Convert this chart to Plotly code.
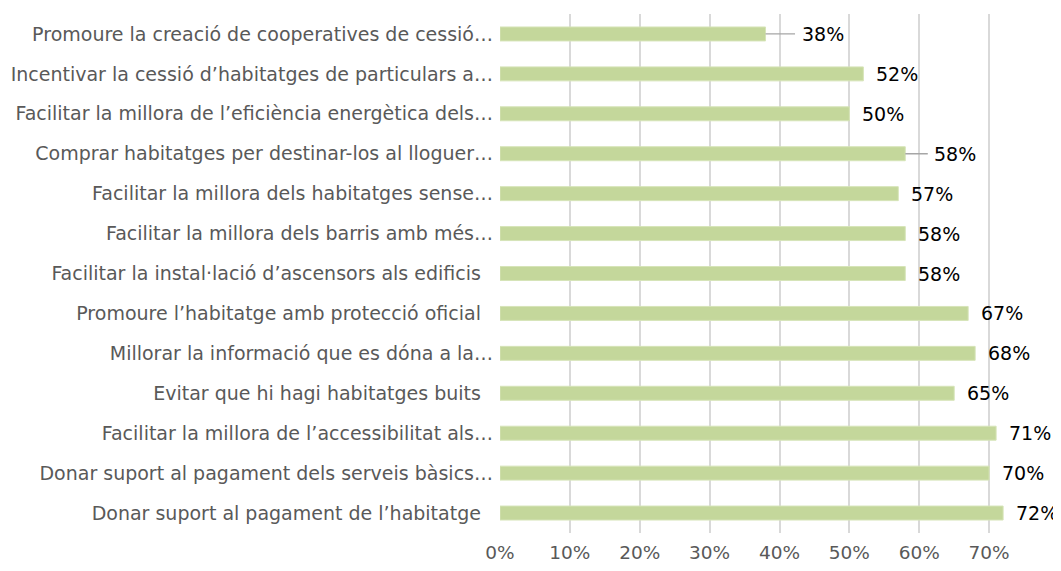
import plotly.graph_objects as go

categories = [
    "Promoure la creació de cooperatives de cessió…",
    "Incentivar la cessió d’habitatges de particulars a…",
    "Facilitar la millora de l’eficiència energètica dels…",
    "Comprar habitatges per destinar-los al lloguer…",
    "Facilitar la millora dels habitatges sense…",
    "Facilitar la millora dels barris amb més…",
    "Facilitar la instal·lació d’ascensors als edificis\u00a0\u00a0",
    "Promoure l’habitatge amb protecció oficial\u00a0\u00a0",
    "Millorar la informació que es dóna a la…",
    "Evitar que hi hagi habitatges buits\u00a0\u00a0",
    "Facilitar la millora de l’accessibilitat als…",
    "Donar suport al pagament dels serveis bàsics…",
    "Donar suport al pagament de l’habitatge\u00a0\u00a0",
]
values = [0.38, 0.52, 0.50, 0.58, 0.57, 0.58, 0.58, 0.67, 0.68, 0.65, 0.71, 0.70, 0.72]
tick_vals = [0, 0.1, 0.2, 0.3, 0.4, 0.5, 0.6, 0.7]
tick_text = ["0%", "10%", "20%", "30%", "40%", "50%", "60%", "70%"]

# labels moved away from the bar end with a leader line (index -> pixel offset)
leader = {0: 57, 3: 50}

FONT = "DejaVu Sans"
fig = go.Figure()
fig.add_trace(go.Bar(
    y=categories, x=values, orientation="h",
    marker=dict(color="#c4d79b", line=dict(color="#d6e4b8", width=1)),
    width=0.35, hoverinfo="skip",
))

annotations = []
for i, (c, v) in enumerate(zip(categories, values)):
    txt = f"{round(v*100)}%"
    if i in leader:
        annotations.append(dict(
            x=v, y=c, xref="x", yref="y", text=txt, showarrow=True,
            ax=leader[i], ay=0, arrowhead=0, arrowwidth=1.3, arrowcolor="#a6a6a6",
            standoff=0, startstandoff=0, borderpad=6,
            font=dict(family=FONT, size=19, color="#000000"),
        ))
    else:
        annotations.append(dict(
            x=v, y=c, xref="x", yref="y", text=txt, showarrow=False,
            xanchor="left", xshift=11,
            font=dict(family=FONT, size=19, color="#000000"),
        ))

fig.update_layout(
    width=1053, height=563,
    margin=dict(l=492, r=2, t=6, b=38),
    paper_bgcolor="white", plot_bgcolor="white",
    showlegend=False, bargap=0.65,
    annotations=annotations,
    font=dict(family=FONT, size=19, color="#595959"),
    xaxis=dict(range=[0, 0.8], tickvals=tick_vals, ticktext=tick_text,
               showgrid=True, gridcolor="#d9d9d9", gridwidth=1.5,
               zeroline=False, showline=False, ticks="", automargin=False,
               ticklabelstandoff=6,
               tickfont=dict(family=FONT, size=18.5, color="#595959")),
    yaxis=dict(autorange="reversed", showgrid=False, zeroline=False,
               showline=False, ticks="", ticklabelstandoff=6, automargin=False,
               tickfont=dict(family=FONT, size=19, color="#595959")),
)
fig.write_html("out.html")
